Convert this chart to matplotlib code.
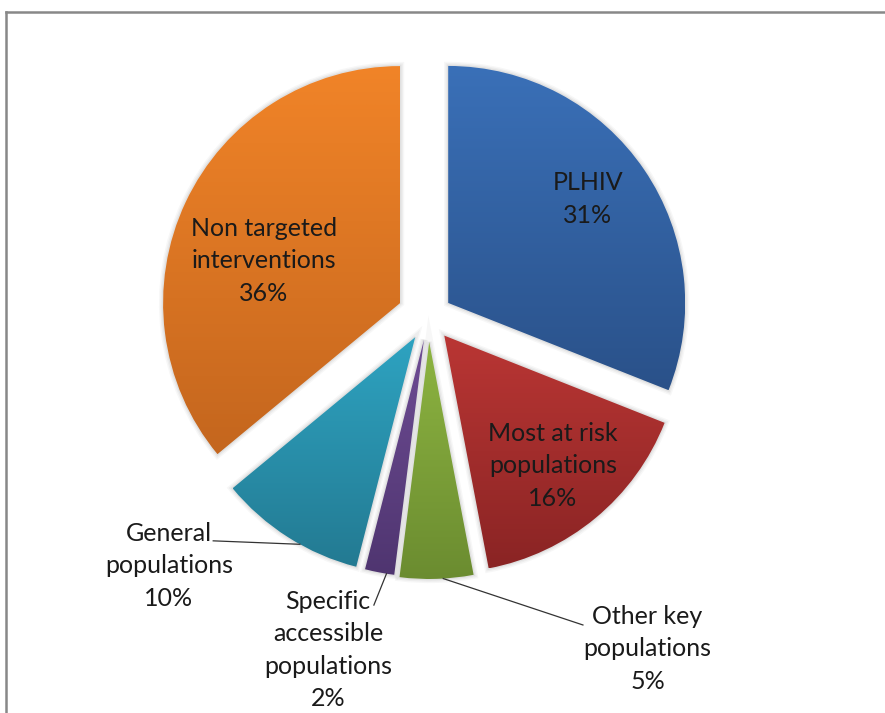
import numpy as np
import matplotlib
matplotlib.use("Agg")
from matplotlib import pyplot as plt
from matplotlib.colors import LinearSegmentedColormap
from matplotlib.lines import Line2D
from matplotlib.patches import PathPatch

# spending split by target group
groups = ["PLHIV", "Most at risk\npopulations", "Other key\npopulations",
          "Specific\naccessible\npopulations", "General\npopulations",
          "Non targeted\ninterventions"]
shares = [31, 16, 5, 2, 10, 36]
explode = [0.101, 0.105, 0.108, 0.10, 0.104, 0.132]

# light (top) and dark (bottom) shade of every slice
top_colors = ["#3A70B8", "#BA3634", "#8DB441", "#6E4C94", "#2EA3C1", "#F18428"]
bottom_colors = ["#2A5189", "#8A2424", "#6B8C30", "#4F3570", "#237A92", "#C4661E"]

# label anchors (pie units) and which labels sit outside with a leader line
label_pos = [(0.673, 0.495), (0.526, -0.631), (0.925, -1.403),
             (-0.424, -1.408), (-1.095, -1.053), (-0.694, 0.234)]
leaders = {2: (-86.6, (0.652, -1.302)),
           3: (-99.1, (-0.230, -1.218)),
           4: (240.9, (-0.908, -0.947))}

W, H = 885, 713
cx, cy, R = 428.4, 316.4, 237.0   # pie centre and radius in pixels

fig = plt.figure(figsize=(W / 100, H / 100), dpi=100)
ax = fig.add_axes([0, 0, 1, 1])
ax.axis("off")

wedges, _ = ax.pie(shares, explode=explode, startangle=90, counterclock=False,
                   radius=1.0, wedgeprops=dict(linewidth=0))

grad = np.linspace(0, 1, 256).reshape(-1, 1)
for i, w in enumerate(wedges):
    # soft shadow around each slice
    for lw, a in [(6, 0.03), (4, 0.04), (2, 0.05)]:
        sh = PathPatch(w.get_path(), facecolor="none",
                       edgecolor=(0, 0, 0, a), linewidth=lw, zorder=1)
        ax.add_patch(sh)
    w.set_facecolor("none")
    w.set_zorder(3)
    ext = w.get_path().get_extents()
    cmap = LinearSegmentedColormap.from_list("s%d" % i, [top_colors[i], bottom_colors[i]])
    im = ax.imshow(grad, cmap=cmap, extent=(ext.x0, ext.x1, ext.y0, ext.y1),
                   origin="upper", aspect="auto", interpolation="bicubic", zorder=2)
    im.set_clip_path(w)

font = ["Lato", "DejaVu Sans"]
for i, (name, val) in enumerate(zip(groups, shares)):
    x, y = label_pos[i]
    ax.text(x, y, "%s\n%d%%" % (name, val), ha="center", va="center",
            fontsize=18, family=font, color="#1a1a1a", linespacing=1.5, zorder=5)

for i, (ang, end) in leaders.items():
    theta = np.deg2rad((wedges[i].theta1 + wedges[i].theta2) / 2)
    ox, oy = explode[i] * np.cos(theta), explode[i] * np.sin(theta)
    a = np.deg2rad(ang)
    sx, sy = ox + np.cos(a), oy + np.sin(a)
    ax.plot([sx, end[0]], [sy, end[1]], color="#333333", linewidth=0.9, zorder=4)

ax.set_xlim(-cx / R, (W - cx) / R)
ax.set_ylim(-(H - cy) / R, cy / R)

# chart area frame (runs off the right and bottom edges)
fx, fy = 6 / W, 1 - 12 / H
fig.add_artist(Line2D([fx, 1], [fy, fy], color="#888888", linewidth=1.8))
fig.add_artist(Line2D([fx, fx], [fy, 0], color="#888888", linewidth=1.8))

fig.savefig("out.png", dpi=100, facecolor="white")
